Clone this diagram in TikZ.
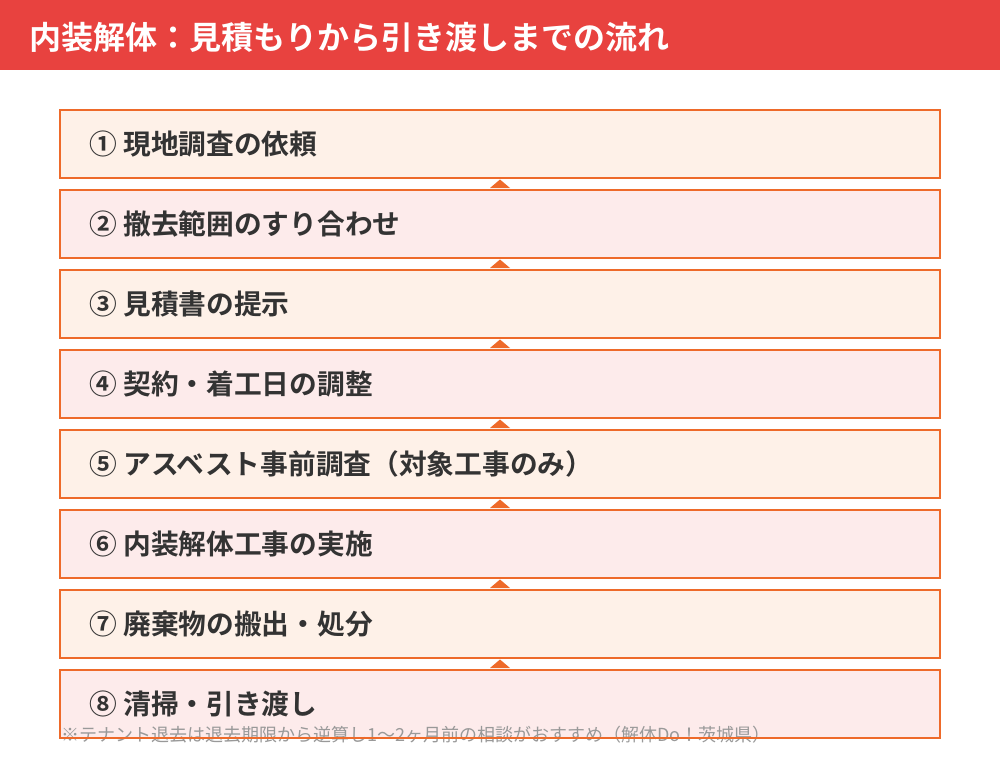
\documentclass[tikz,border=0pt]{standalone}
\usepackage{fontspec}
\setmainfont{Noto Sans CJK JP}
\newfontfamily\jpbold{Noto Sans CJK JP Bold}
\newfontfamily\jpreg{Noto Sans CJK JP}
\definecolor{titlered}{HTML}{E8423F}
\definecolor{edgeorange}{HTML}{EE6A2A}
\definecolor{fillcream}{HTML}{FEF1E8}
\definecolor{fillpink}{HTML}{FDEBEB}
\definecolor{textdark}{HTML}{333333}
\definecolor{notegray}{HTML}{999999}
\tikzset{
  steptext/.style={anchor=west, inner sep=0pt, text=textdark, font=\jpbold\fontsize{20.8pt}{23pt}\selectfont},
  uparrow/.style={fill=edgeorange, draw=none},
}
\begin{document}
\begin{tikzpicture}[x=0.75pt,y=-0.75pt]
\useasboundingbox (0,0) rectangle (1000,760);
\fill[white] (0,0) rectangle (1000,760);
% title
\fill[titlered] (0,0) rectangle (1000,70);
\node[anchor=west, inner sep=0pt, text=white, font=\jpbold\fontsize{24pt}{27pt}\selectfont] (title) at (29,37) {内装解体：見積もりから引き渡しまでの流れ};
% boxes
\foreach \i/\txt in {1/{① 現地調査の依頼},2/{② 撤去範囲のすり合わせ},3/{③ 見積書の提示},4/{④ 契約・着工日の調整},5/{⑤ アスベスト事前調査（対象工事のみ）},6/{⑥ 内装解体工事の実施},7/{⑦ 廃棄物の搬出・処分},8/{⑧ 清掃・引き渡し}}{
  \pgfmathsetmacro{\top}{110+80*(\i-1)}
  \pgfmathparse{mod(\i,2)==1 ? "fillcream" : "fillpink"}
  \edef\fc{\pgfmathresult}
  \fill[\fc] (60,\top) rectangle (940,\top+68);
  \coordinate (box\i) at (60,\top);
  \node[steptext] (t\i) at (89,\top+34) {\txt};
}
% footnote
\node[anchor=west, inner sep=0pt, text=notegray, font=\jpreg\fontsize{13.5pt}{15pt}\selectfont] (note) at (61,735) {※テナント退去は退去期限から逆算し1〜2ヶ月前の相談がおすすめ（解体Do！茨城県）};
% borders
\foreach \i in {1,...,8}{
  \pgfmathsetmacro{\top}{110+80*(\i-1)}
  \draw[edgeorange, line width=1.5pt] (60,\top) rectangle (940,\top+68);
}
% arrows
\foreach \i in {1,...,7}{
  \pgfmathsetmacro{\b}{110+80*(\i-1)+68}
  \fill[uparrow] (490,\b+10) -- (500,\b+1.5) -- (510,\b+10) -- cycle;
}
\end{tikzpicture}
\end{document}
